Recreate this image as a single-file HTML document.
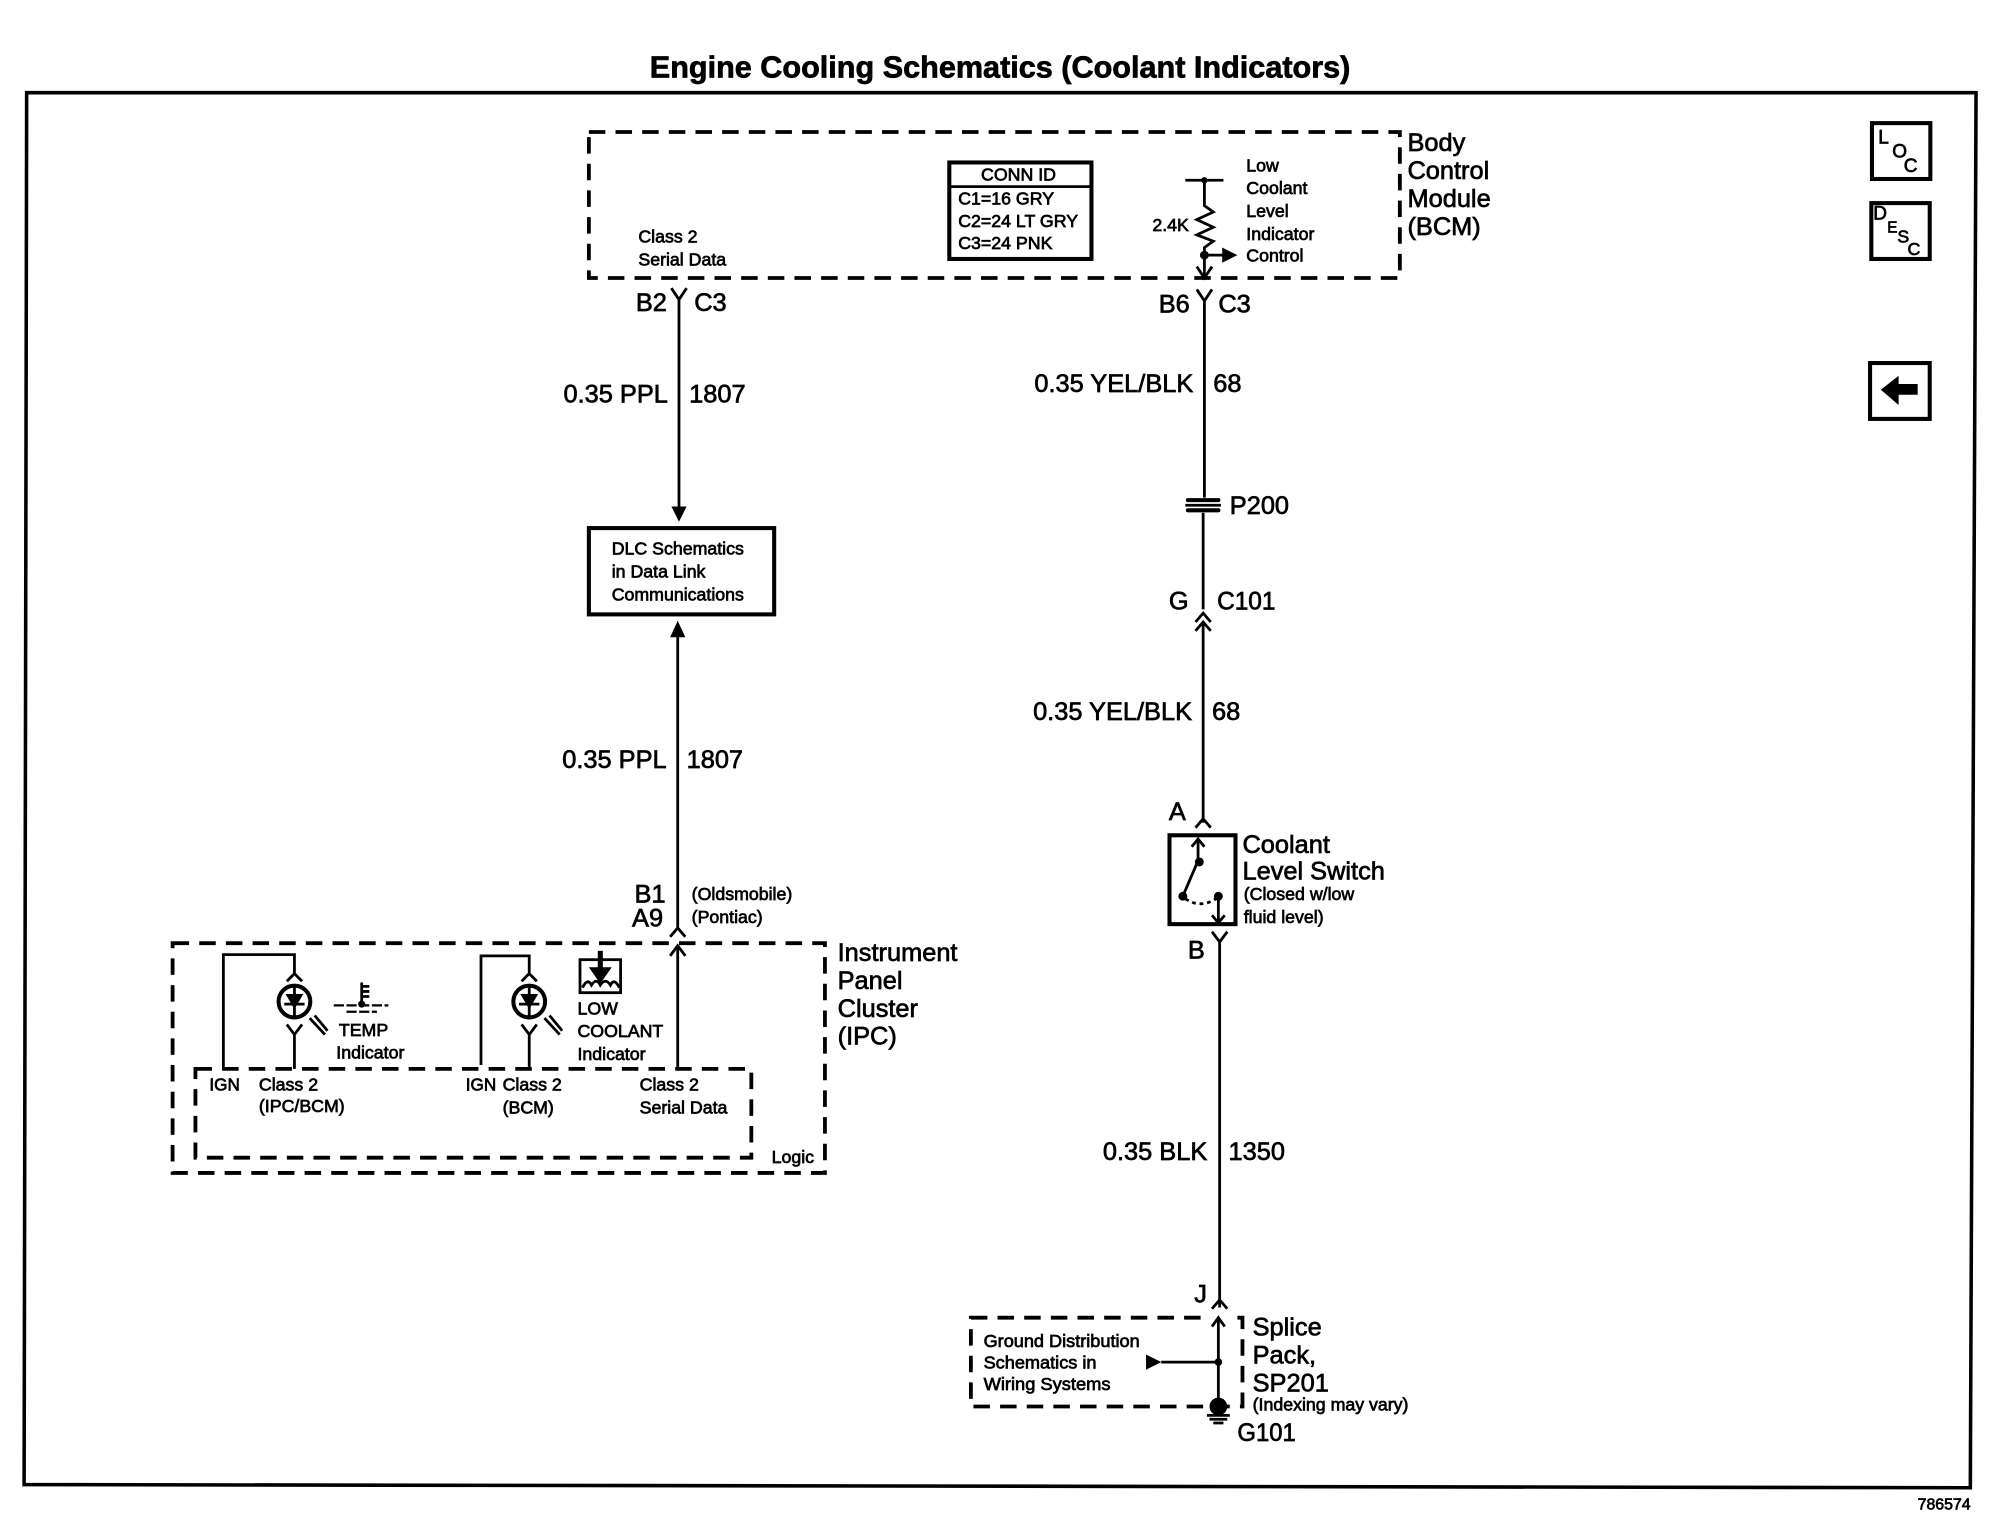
<!DOCTYPE html>
<html><head><meta charset="utf-8"><style>
html,body{margin:0;padding:0;background:#fff;width:1990px;height:1536px;overflow:hidden}
svg{display:block}
text{font-family:"Liberation Sans",sans-serif;fill:#000;stroke:#000;stroke-width:.55}
.b{font-size:20px}.s{font-size:14px}.x{font-size:14px}
.l{fill:none;stroke:#000;stroke-width:2.2}
.d{fill:none;stroke:#000;stroke-width:3;stroke-dasharray:13 8}
.k{fill:none;stroke:#000;stroke-width:3.2}
</style></head><body>
<svg width="1990" height="1536" viewBox="0 0 1568 1210" preserveAspectRatio="none" xmlns="http://www.w3.org/2000/svg">
<text x="512" y="61" font-size="24" font-weight="bold" stroke-width="0.2" textLength="552" lengthAdjust="spacingAndGlyphs">Engine Cooling Schematics (Coolant Indicators)</text>
<path d="M21 73H1557L1552.5 1172L19 1169.5Z" fill="none" stroke="#000" stroke-width="2.8"/>

<!-- BCM -->
<rect x="464" y="104" width="639" height="115" class="d"/>
<text class="b" x="1109" y="119">Body</text><text class="b" x="1109" y="141">Control</text><text class="b" x="1109" y="163">Module</text><text class="b" x="1109" y="185">(BCM)</text>
<text class="s" x="503" y="191">Class 2</text><text class="s" x="503" y="209">Serial Data</text>
<rect x="748" y="128" width="112" height="76" class="k"/><path d="M748 147H860" class="l"/>
<text class="s" x="773" y="142">CONN ID</text>
<text class="s" x="755" y="161">C1=16 GRY</text><text class="s" x="755" y="179">C2=24 LT GRY</text><text class="s" x="755" y="196">C3=24 PNK</text>
<path d="M934 142H964M949 142V162L956 167L943 173L956 179L943 185L956 190L949 195V219" class="l"/>
<circle cx="949" cy="142" r="2.5"/>
<circle cx="949" cy="201" r="3.5"/><path d="M949 201H965" class="l"/><path d="M963 195L975 201L963 207Z"/>
<path d="M943 210L949 219L955 210" class="l"/>
<text class="s" x="908" y="182">2.4K</text>
<text class="s" x="982" y="135">Low</text><text class="s" x="982" y="153">Coolant</text><text class="s" x="982" y="171">Level</text><text class="s" x="982" y="189">Indicator</text><text class="s" x="982" y="206">Control</text>

<!-- Left wire -->
<path d="M529 227L535 236L541 227M535 236V402" class="l"/><path d="M529 399H541L535 411Z"/>
<text class="b" x="501" y="245">B2</text><text class="b" x="547" y="245">C3</text>
<text class="b" x="444" y="317">0.35 PPL</text><text class="b" x="543" y="317">1807</text>
<rect x="464" y="416" width="146" height="68" class="k"/>
<text class="s" x="482" y="437">DLC Schematics</text><text class="s" x="482" y="455">in Data Link</text><text class="s" x="482" y="473">Communications</text>
<path d="M534 500V731" class="l"/><path d="M528 502H540L534 489Z"/>
<text class="b" x="443" y="605">0.35 PPL</text><text class="b" x="541" y="605">1807</text>
<text class="b" x="500" y="711">B1</text><text class="b" x="498" y="730">A9</text>
<text class="x" x="545" y="709">(Oldsmobile)</text><text class="x" x="545" y="727">(Pontiac)</text>
<path d="M528 738L534 731L540 738" class="l"/>
<path d="M534 745V842" class="l"/><path d="M528 753L534 745L540 753" class="l"/>

<!-- IPC -->
<rect x="136" y="743" width="514" height="181" class="d"/>
<rect x="154" y="842" width="438" height="70" class="d"/>
<text class="b" x="660" y="757">Instrument</text><text class="b" x="660" y="779">Panel</text><text class="b" x="660" y="801">Cluster</text><text class="b" x="660" y="823">(IPC)</text>
<text class="x" x="608" y="916">Logic</text>
<path d="M176 842V752H232V767M226 773L232 767L238 773M226 807L232 815L238 807M232 815V842" class="l"/>
<circle cx="232" cy="789" r="12.5" class="k"/><path d="M232 776V802M224 791H240" class="l" stroke-width="1.5"/><path d="M225 783H239L232 795Z"/>
<path d="M244 802L256 815M248 800L258 812" class="l"/>
<path d="M379 839V753H417V767M411 773L417 767L423 773M411 807L417 815L423 807M417 815V842" class="l"/>
<circle cx="417" cy="789" r="12.5" class="k"/><path d="M417 776V802M409 791H425" class="l" stroke-width="1.5"/><path d="M410 783H424L417 795Z"/>
<path d="M429 802L441 815M433 800L443 812" class="l"/>
<path d="M285 774V790M285 777H291M285 781H291M285 785H291" class="l"/>
<path d="M263 792H306M273 797H297" fill="none" stroke="#000" stroke-width="1.8" stroke-dasharray="8 2"/><circle cx="285" cy="791" r="2.8"/>
<text class="s" x="267" y="816">TEMP</text><text class="s" x="265" y="834">Indicator</text>
<rect x="457" y="756" width="32" height="26" class="l"/><path d="M473 749V765" stroke="#000" stroke-width="4"/><path d="M464 762H482L473 775Z"/>
<path d="M459 778Q463 770 466 776Q470 770 473 776Q477 770 481 776Q484 770 488 778" class="l" stroke-width="1.5"/>
<text class="s" x="455" y="799">LOW</text><text class="s" x="455" y="817">COOLANT</text><text class="s" x="455" y="835">Indicator</text>
<text class="s" x="165" y="859" textLength="24" lengthAdjust="spacingAndGlyphs">IGN</text><text class="s" x="204" y="859">Class 2</text><text class="s" x="204" y="876">(IPC/BCM)</text>
<text class="s" x="367" y="859" textLength="24" lengthAdjust="spacingAndGlyphs">IGN</text><text class="s" x="396" y="859">Class 2</text><text class="s" x="396" y="877">(BCM)</text>
<text class="s" x="504" y="859">Class 2</text><text class="s" x="504" y="877">Serial Data</text>

<!-- Right wire -->
<path d="M943 228L949 237L955 228M949 237V392M948 404V480" class="l"/>
<text class="b" x="913" y="246">B6</text><text class="b" x="960" y="246">C3</text>
<text class="b" x="815" y="309">0.35 YEL/BLK</text><text class="b" x="956" y="309">68</text>
<path d="M936 394H960M936 402H960" fill="none" stroke="#000" stroke-width="3.2" stroke-linecap="round"/><path d="M934 398H962" class="l" stroke-width="1.2"/>
<text class="b" x="969" y="405">P200</text>
<text class="b" x="921" y="480">G</text><text class="b" x="959" y="480" textLength="46" lengthAdjust="spacingAndGlyphs">C101</text>
<path d="M942 490L948 483L954 490M942 497L948 490L954 497M948 490V648" class="l"/>
<text class="b" x="814" y="567">0.35 YEL/BLK</text><text class="b" x="955" y="567">68</text>
<text class="b" x="921" y="646">A</text>
<path d="M942 652L948 645L954 652" class="l"/>
<rect x="921.5" y="658" width="52" height="70" class="k"/>
<path d="M944 662V678L932 706M939 667L944 661L949 667M960 706V726M955 721L960 727L965 721" class="l"/>
<circle cx="945" cy="679" r="3.5"/><circle cx="932" cy="706" r="3.5"/><circle cx="960" cy="706" r="3.5"/>
<path d="M934 708Q946 716 958 708" class="l" stroke-dasharray="3 3" stroke-width="1.5"/>
<text class="b" x="979" y="672">Coolant</text><text class="b" x="979" y="693">Level Switch</text>
<text class="x" x="980" y="709">(Closed w/low</text><text class="x" x="980" y="727">fluid level)</text>
<path d="M955 734L961 742L967 734M961 742V1030" class="l"/>
<text class="b" x="936" y="755">B</text>
<text class="b" x="869" y="914">0.35 BLK</text><text class="b" x="968" y="914">1350</text>
<text class="b" font-size="18" x="941" y="1026">J</text>
<path d="M955 1031L961 1024L967 1031" class="l"/>

<!-- Splice -->
<rect x="765" y="1038" width="214" height="70" class="d"/>
<rect x="950" y="1032" width="21" height="9" fill="#fff"/>
<text class="b" x="987" y="1052">Splice</text><text class="b" x="987" y="1074">Pack,</text><text class="b" x="987" y="1096">SP201</text>
<text class="x" x="987" y="1111">(Indexing may vary)</text>
<text class="s" x="775" y="1061" textLength="123" lengthAdjust="spacingAndGlyphs">Ground Distribution</text><text class="s" x="775" y="1078" textLength="89" lengthAdjust="spacingAndGlyphs">Schematics in</text><text class="s" x="775" y="1095" textLength="100" lengthAdjust="spacingAndGlyphs">Wiring Systems</text>
<path d="M915 1073H960M960 1038V1108" class="l"/>
<path d="M955 1045L960 1038L965 1045" class="l"/>
<path d="M903 1067L915 1073L903 1079Z"/><circle cx="960" cy="1073" r="3"/>
<circle cx="960" cy="1108" r="7"/>
<path d="M951 1115H969M953 1118H967M956 1121H964" class="l" stroke-width="1.5"/>
<text class="b" x="975" y="1135" textLength="46" lengthAdjust="spacingAndGlyphs">G101</text>

<!-- Buttons -->
<rect x="1475" y="97" width="46" height="44" class="k"/>
<text font-size="15" x="1480" y="113">L</text><text font-size="15" x="1491" y="124">O</text><text font-size="15" x="1500" y="135.5">C</text>
<rect x="1474.5" y="160" width="46" height="44" class="k"/>
<text font-size="15" x="1476" y="173">D</text><text font-size="12" x="1487" y="183">E</text><text font-size="14" x="1495" y="191">S</text><text font-size="14" x="1503" y="201">C</text>
<rect x="1473.5" y="286" width="47" height="44" class="k"/>
<path d="M1482 307L1496 296V302.5H1511V311H1496V319Z"/>
<text font-size="12.5" x="1511" y="1189">786574</text>
</svg>
</body></html>
